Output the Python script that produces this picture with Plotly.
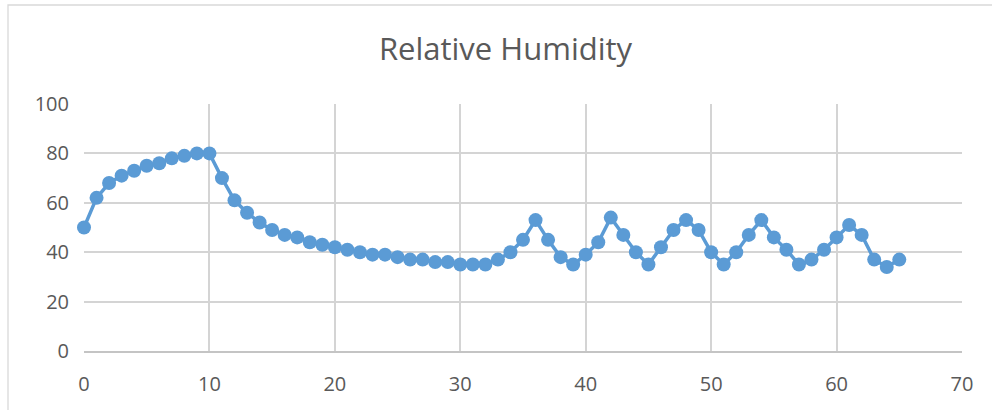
import plotly.graph_objects as go

x_vals = list(range(0, 66))
humidity = [50, 62, 68, 71, 73, 75, 76, 78, 79, 80,
            80, 70, 61, 56, 52, 49, 47, 46, 44, 43,
            42, 41, 40, 39, 39, 38, 37, 37, 36, 36,
            35, 35, 35, 37, 40, 45, 53, 45, 38, 35,
            39, 44, 54, 47, 40, 35, 42, 49, 53, 49,
            40, 35, 40, 47, 53, 46, 41, 35, 37, 41,
            46, 51, 47, 37, 34, 37]
x_ticks = [0, 10, 20, 30, 40, 50, 60, 70]
y_ticks = [0, 20, 40, 60, 80, 100]
title_text = "Relative Humidity"

W, H = 992, 410
L, R, T, B = 84, 30, 104, 59
pw = W - L - R
ph = H - T - B

fig = go.Figure()
fig.add_trace(go.Scatter(
    x=x_vals, y=humidity, mode="lines+markers",
    line=dict(color="#5B9BD5", width=3.5),
    marker=dict(color="#5B9BD5", size=14),
    cliponaxis=False, showlegend=False,
))

fig.update_layout(
    width=W, height=H,
    margin=dict(l=L, r=R, t=T, b=B),
    paper_bgcolor="white", plot_bgcolor="white",
    font=dict(family="Open Sans", color="#595959", size=20),
    title=dict(text=title_text, x=505.5 / W, xanchor="center",
               y=1 - 49 / H, yanchor="middle", yref="container",
               font=dict(size=31, color="#595959", family="Open Sans")),
    xaxis=dict(range=[0, 70], tickvals=x_ticks, showgrid=True,
               gridcolor="#d4d4d4", gridwidth=1.5, zeroline=False,
               showline=True, linecolor="#c4c4c4", linewidth=1.5,
               mirror=False, ticks="", ticklabelstandoff=14,
               fixedrange=True),
    yaxis=dict(range=[0, 100], tickvals=y_ticks, showgrid=True,
               gridcolor="#d4d4d4", gridwidth=1.5, zeroline=False,
               showline=False, ticks="", ticklabelstandoff=14,
               fixedrange=True),
    shapes=[dict(type="rect", xref="paper", yref="paper",
                 x0=(8 - L) / pw, x1=1.2, y0=-0.6, y1=(H - B - 5) / ph,
                 line=dict(color="#d9d9d9", width=1.3), layer="below")],
)

fig.write_html("out.html")
